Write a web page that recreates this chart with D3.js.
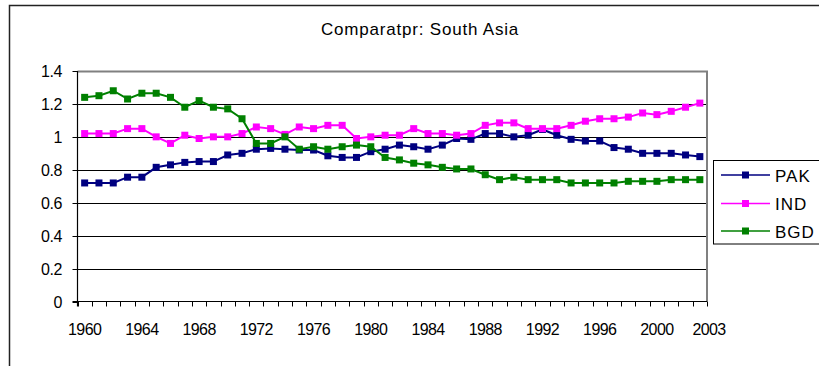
<!DOCTYPE html>
<html>
<head>
<meta charset="utf-8">
<script src="https://cdn.jsdelivr.net/npm/d3@7/dist/d3.min.js"></script>
<style>
  html, body { margin: 0; padding: 0; background: #fff; }
  svg { display: block; font-family: "Liberation Sans", Arial, sans-serif; }
</style>
</head>
<body>
<svg id="chart" width="819" height="366"></svg>
<script>
// ---- data ----
const title = "Comparatpr: South Asia";
const years = [1960,1961,1962,1963,1964,1965,1966,1967,1968,1969,
               1970,1971,1972,1973,1974,1975,1976,1977,1978,1979,
               1980,1981,1982,1983,1984,1985,1986,1987,1988,1989,
               1990,1991,1992,1993,1994,1995,1996,1997,1998,1999,
               2000,2001,2002,2003];
const PAK = [0.72,0.72,0.72,0.755,0.755,0.815,0.83,0.845,0.85,0.85,
             0.89,0.90,0.925,0.93,0.925,0.92,0.92,0.885,0.875,0.875,
             0.91,0.925,0.95,0.94,0.925,0.95,0.99,0.985,1.02,1.02,
             1.0,1.01,1.045,1.01,0.985,0.975,0.975,0.935,0.925,0.90,
             0.90,0.90,0.89,0.88];
const IND = [1.02,1.02,1.02,1.05,1.05,1.0,0.96,1.01,0.99,1.0,
             1.0,1.02,1.06,1.05,1.015,1.06,1.05,1.07,1.07,0.99,
             1.0,1.01,1.01,1.05,1.02,1.02,1.01,1.02,1.07,1.085,
             1.085,1.05,1.05,1.05,1.07,1.095,1.11,1.11,1.12,1.145,
             1.135,1.155,1.18,1.205];
const BGD = [1.24,1.25,1.28,1.23,1.265,1.265,1.24,1.18,1.22,1.18,
             1.17,1.11,0.96,0.96,1.0,0.925,0.94,0.925,0.94,0.95,
             0.94,0.875,0.86,0.84,0.83,0.815,0.805,0.805,0.77,0.74,
             0.755,0.74,0.74,0.74,0.72,0.72,0.72,0.72,0.73,0.73,
             0.73,0.74,0.74,0.74];
const seriesNames = ["PAK","IND","BGD"];
const seriesColors = ["#000080","#FF00FF","#008000"];
const yTicks = [0,0.2,0.4,0.6,0.8,1,1.2,1.4];
const xTickLabels = [1960,1964,1968,1972,1976,1980,1984,1988,1992,1996,2000,2003];

const series = [PAK, IND, BGD].map((vals, k) => ({
  name: seriesNames[k], color: seriesColors[k],
  values: vals.map((v, i) => ({year: years[i], v}))
}));

// ---- layout ----
const svg = d3.select("#chart");
const L = 77.5, R = 707, T = 71, B = 301.5;

svg.append("rect").attr("width", 819).attr("height", 366).attr("fill", "#fff");
// outer chart border (extends past window)
svg.append("rect").attr("x", 9.5).attr("y", 5.5).attr("width", 900).attr("height", 500)
  .attr("fill", "none").attr("stroke", "#222").attr("stroke-width", 1.5);

svg.append("text").attr("x", 420).attr("y", 35).attr("text-anchor", "middle")
  .attr("font-size", 17).attr("letter-spacing", 0.8).attr("fill", "#000").text(title);

const x = d3.scaleBand().domain(years).range([L, R]);
const y = d3.scaleLinear().domain([0, 1.4]).range([B, T]);
const cx = d => x(d) + x.bandwidth() / 2;

// gridlines
svg.append("g").selectAll("line").data(yTicks.filter(t => t > 0 && t < 1.4)).join("line")
  .attr("x1", L).attr("x2", R).attr("y1", d => Math.round(y(d)) + 0.5).attr("y2", d => Math.round(y(d)) + 0.5)
  .attr("stroke", "#000").attr("stroke-width", 1);
// plot border top/right (gray)
svg.append("path")
  .attr("d", `M${L},${Math.round(y(1.4)) + 0.5}H${R}V${B}`)
  .attr("fill", "none").attr("stroke", "#808080").attr("stroke-width", 2);

// y axis
const yAxis = svg.append("g");
yAxis.append("line").attr("x1", L).attr("x2", L).attr("y1", y(1.4)).attr("y2", B + 5)
  .attr("stroke", "#000").attr("stroke-width", 1.2);
yAxis.selectAll("line.tk").data(yTicks).join("line").attr("class", "tk")
  .attr("x1", L - 5).attr("x2", L).attr("y1", d => Math.round(y(d)) + 0.5).attr("y2", d => Math.round(y(d)) + 0.5)
  .attr("stroke", "#000");
yAxis.selectAll("text").data(yTicks).join("text")
  .attr("x", L - 15.5).attr("y", d => y(d) + 6).attr("text-anchor", "end")
  .attr("font-size", 16).attr("letter-spacing", -0.4).attr("fill", "#000")
  .text(d => String(d));

// x axis
const xAxis = svg.append("g");
xAxis.append("line").attr("x1", L - 5).attr("x2", R).attr("y1", B).attr("y2", B)
  .attr("stroke", "#000").attr("stroke-width", 1.2);
const tickPos = years.map(yr => x(yr)).concat([x.range()[1]]);
xAxis.selectAll("line.tk").data(tickPos).join("line").attr("class", "tk")
  .attr("x1", d => Math.round(d) + 0.5).attr("x2", d => Math.round(d) + 0.5)
  .attr("y1", B).attr("y2", B + 5).attr("stroke", "#000");
xAxis.selectAll("text").data(xTickLabels).join("text")
  .attr("x", (d, i) => i === xTickLabels.length - 1 ? x.range()[1] + 2 : cx(d))
  .attr("y", 335).attr("text-anchor", "middle")
  .attr("font-size", 16).attr("letter-spacing", -0.6).attr("fill", "#000")
  .text(d => String(d));

// series
const line = d3.line().x(d => cx(d.year)).y(d => y(d.v));
const g = svg.append("g");
series.forEach(s => {
  g.append("path").datum(s.values).attr("d", line)
    .attr("fill", "none").attr("stroke", s.color).attr("stroke-width", 2);
  g.append("g").selectAll("rect").data(s.values).join("rect")
    .attr("x", d => cx(d.year) - 3.5).attr("y", d => y(d.v) - 3.5)
    .attr("width", 7).attr("height", 7).attr("fill", s.color);
});

// legend
const lg = svg.append("g");
lg.append("rect").attr("x", 713.5).attr("y", 160.5).attr("width", 200).attr("height", 83.5)
  .attr("fill", "#fff").attr("stroke", "#000").attr("stroke-width", 1);
const legY = [175, 203.5, 231];
series.forEach((s, k) => {
  lg.append("line").attr("x1", 721).attr("x2", 770).attr("y1", legY[k]).attr("y2", legY[k])
    .attr("stroke", s.color).attr("stroke-width", 1.5);
  lg.append("rect").attr("x", 742).attr("y", legY[k] - 3.5).attr("width", 7).attr("height", 7)
    .attr("fill", s.color);
  lg.append("text").attr("x", 775).attr("y", legY[k] + 6.5)
    .attr("font-size", 17).attr("letter-spacing", 1).attr("fill", "#000").text(s.name);
});
</script>
</body>
</html>
